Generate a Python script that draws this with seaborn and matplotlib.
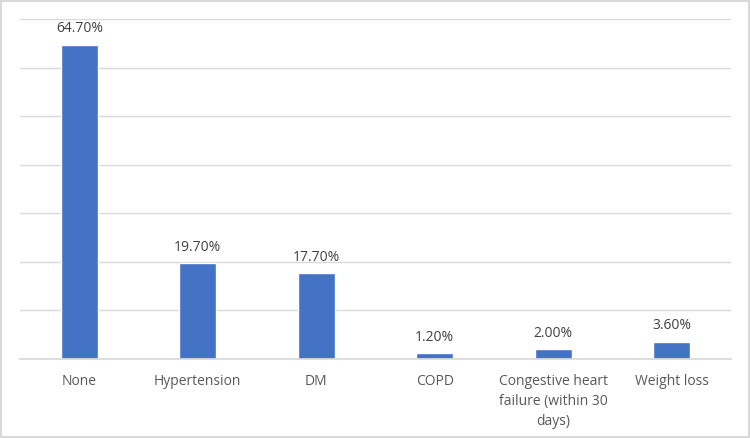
import matplotlib
matplotlib.use("Agg")
import matplotlib.pyplot as plt
import seaborn as sns
import pandas as pd

categories = ["None", "Hypertension", "DM", "COPD",
              "Congestive heart\nfailure (within 30\ndays)", "Weight loss"]
values = [64.7, 19.7, 17.7, 1.2, 2.0, 3.6]
labels = ["64.70%", "19.70%", "17.70%", "1.20%", "2.00%", "3.60%"]

df = pd.DataFrame({"category": categories, "value": values})

sns.set_theme(style="white")
plt.rcParams["font.family"] = ["Open Sans", "DejaVu Sans"]

fig = plt.figure(figsize=(7.5, 4.38), dpi=100, edgecolor="#D9D9D9", linewidth=1.5)
ax = fig.add_axes([0.0267, 0.1804, 0.948, 0.7762])

sns.barplot(data=df, x="category", y="value", color="#4472C4", saturation=1,
            width=0.31, ax=ax)

ax.set_ylim(0, 70)
ax.set_xlim(-0.5, len(categories) - 0.5)
ax.set_yticks(range(0, 71, 10))
ax.yaxis.grid(True, color="#D9D9D9", linewidth=1)
ax.set_axisbelow(True)
ax.tick_params(axis="y", left=False, labelleft=False)
ax.tick_params(axis="x", bottom=False, labelsize=10, labelcolor="#595959", pad=5)
for t in ax.get_xticklabels():
    t.set_linespacing(1.45)
ax.set_xlabel("")
ax.set_ylabel("")
for s in ["top", "right", "left"]:
    ax.spines[s].set_visible(False)
ax.spines["bottom"].set_color("#D9D9D9")

for i, (v, lab) in enumerate(zip(values, labels)):
    ax.annotate(lab, (i, v), xytext=(0, 6), textcoords="offset points",
                ha="center", va="bottom", fontsize=10, color="#404040")

fig.savefig("out.png", dpi=100, edgecolor=fig.get_edgecolor())
